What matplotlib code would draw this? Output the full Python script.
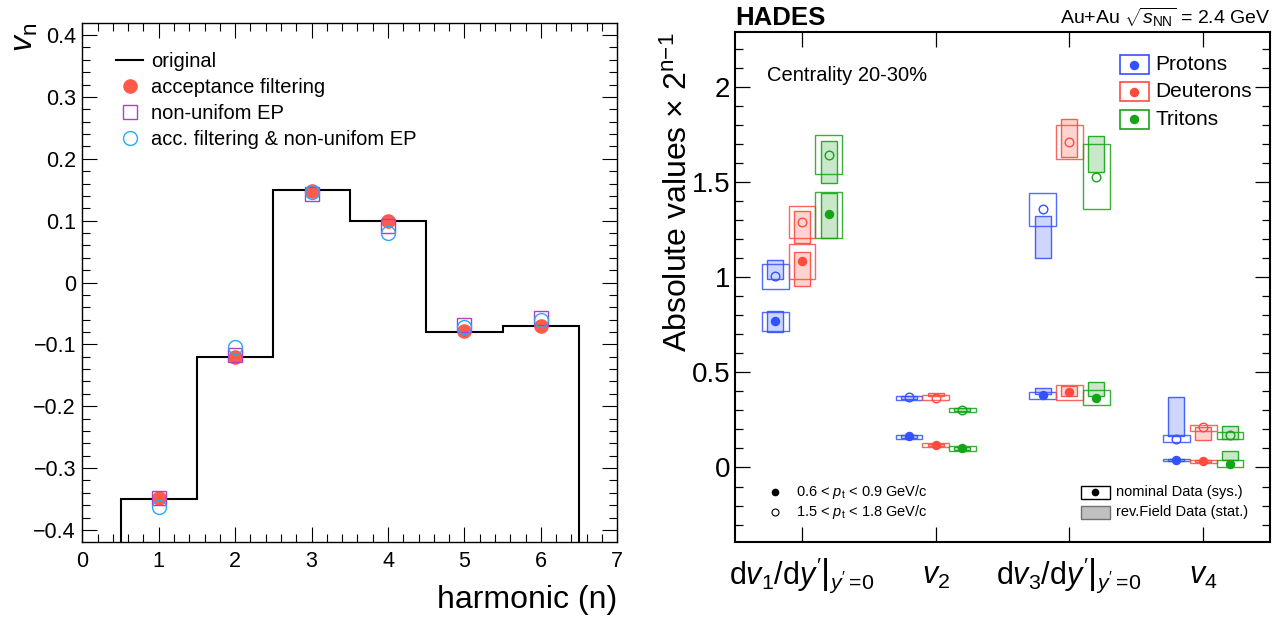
import numpy as np
import matplotlib.pyplot as plt
from matplotlib.patches import Rectangle
from matplotlib.lines import Line2D
from matplotlib.ticker import MultipleLocator, FuncFormatter

plt.rcParams['font.family'] = ['Liberation Sans', 'DejaVu Sans']
plt.rcParams['mathtext.fontset'] = 'custom'
plt.rcParams['mathtext.rm'] = 'Liberation Sans'
plt.rcParams['mathtext.it'] = 'Liberation Sans:italic'
plt.rcParams['mathtext.bf'] = 'Liberation Sans:bold'

# ---- left panel: v_n vs harmonic ----
harmonic = [1, 2, 3, 4, 5, 6]
vn_original = [-0.35, -0.12, 0.15, 0.10, -0.08, -0.07]
vn_acc_filter = [-0.348, -0.121, 0.148, 0.100, -0.079, -0.070]
vn_nonuni_ep = [-0.348, -0.118, 0.143, 0.091, -0.068, -0.057]
vn_acc_nonuni = [-0.363, -0.105, 0.146, 0.080, -0.072, -0.060]

# ---- right panel: flow coefficients (abs. value x 2^(n-1)) ----
observables = [r"$\left.\mathrm{d}v_{1}/\mathrm{d}y'\right|_{y'\,\!=\!0}$", r"$v_{2}$",
               r"$\left.\mathrm{d}v_{3}/\mathrm{d}y'\right|_{y'\,\!=\!0}$", r"$v_{4}$"]
species = ['Protons', 'Deuterons', 'Tritons']

# 0.6 < pt < 0.9 GeV/c : nominal value, nominal sys. band, rev. field stat. band
p_low = [0.768, 0.165, 0.380, 0.041]
p_low_sys = [(0.718, 0.815), (0.152, 0.172), (0.360, 0.398), (0.035, 0.047)]
p_low_rev = [(0.711, 0.821), (0.156, 0.170), (0.384, 0.420), (0.036, 0.046)]
d_low = [1.085, 0.120, 0.397, 0.033]
d_low_sys = [(0.992, 1.173), (0.110, 0.128), (0.357, 0.435), (0.026, 0.041)]
d_low_rev = [(0.956, 1.130), (0.114, 0.124), (0.375, 0.426), (0.028, 0.038)]
t_low = [1.330, 0.101, 0.366, 0.018]
t_low_sys = [(1.208, 1.447), (0.085, 0.113), (0.327, 0.405), (0.000, 0.037)]
t_low_rev = [(1.208, 1.445), (0.092, 0.108), (0.374, 0.450), (0.039, 0.085)]

# 1.5 < pt < 1.8 GeV/c
p_high = [1.006, 0.368, 1.357, 0.150]
p_high_sys = [(0.940, 1.071), (0.357, 0.377), (1.271, 1.441), (0.132, 0.169)]
p_high_rev = [(0.991, 1.092), (0.360, 0.374), (1.101, 1.323), (0.166, 0.368)]
d_high = [1.291, 0.367, 1.710, 0.211]
d_high_sys = [(1.208, 1.375), (0.357, 0.379), (1.619, 1.802), (0.193, 0.222)]
d_high_rev = [(1.182, 1.349), (0.377, 0.391), (1.633, 1.830), (0.142, 0.214)]
t_high = [1.643, 0.303, 1.528, 0.171]
t_high_sys = [(1.541, 1.745), (0.290, 0.315), (1.358, 1.698), (0.148, 0.189)]
t_high_rev = [(1.493, 1.714), (0.295, 0.311), (1.553, 1.740), (0.148, 0.220)]

colors = ['#3352ff', '#ff4b3e', '#17a317']
fills = ['#c9d2fc', '#ffcfcb', '#c3e5c3']
offsets = [-0.2, 0.0, 0.2]


def fmt(v, _):
    if abs(v) < 1e-9:
        return '0'
    return f"{v:g}".replace('-', '\u2212')


fig = plt.figure(figsize=(12.84, 6.19), dpi=100)
W, H = 1284, 619
ax1 = fig.add_axes([82.3 / W, 1 - 541.7 / H, 535 / W, 518.4 / H])
ax2 = fig.add_axes([735 / W, 1 - 541.7 / H, 535 / W, 509.4 / H])

# ---------------- left ----------------
ymin1, ymax1 = -0.419, 0.419
h = np.array(harmonic)
edges = np.append(h - 0.5, h[-1] + 0.5)
ax1.stairs(vn_original, edges, baseline=ymin1, color='black', lw=1.5)
ax1.plot(h, vn_acc_filter, 'o', color='#ff5a4a', ms=9.5, zorder=3)
ax1.plot(h, vn_nonuni_ep, 's', mfc='none', mec='#b040c0', mew=1.0, ms=9.5, zorder=4)
ax1.plot(h, vn_acc_nonuni, 'o', mfc='none', mec='#22aaff', mew=1.0, ms=10, zorder=5)
ax1.set_xlim(0, 7)
ax1.set_ylim(ymin1, ymax1)
ax1.xaxis.set_major_locator(MultipleLocator(1))
ax1.xaxis.set_minor_locator(MultipleLocator(0.2))
ax1.yaxis.set_major_locator(MultipleLocator(0.1))
ax1.yaxis.set_minor_locator(MultipleLocator(0.02))
ax1.yaxis.set_major_formatter(FuncFormatter(fmt))
ax1.tick_params(which='both', direction='in', top=True, right=True, labelsize=15.5, width=0.8)
ax1.tick_params(which='major', length=11)
ax1.tick_params(which='minor', length=5.8)
ax1.tick_params(axis='y', pad=4.5)
ax1.tick_params(axis='x', pad=6.5)
for s in ax1.spines.values():
    s.set_linewidth(1.0)

handles = [Line2D([], [], color='black', lw=1.5),
           Line2D([], [], ls='none', marker='o', color='#ff5a4a', ms=9.5),
           Line2D([], [], ls='none', marker='s', mfc='none', mec='#b040c0', mew=1.0, ms=9.5),
           Line2D([], [], ls='none', marker='o', mfc='none', mec='#22aaff', mew=1.0, ms=10)]
labels = ['original', 'acceptance filtering', 'non-unifom EP', 'acc. filtering & non-unifom EP']
ax1.legend(handles, labels, loc='upper left', bbox_to_anchor=(0.063, 0.945), frameon=False,
           fontsize=14.5, handlelength=1.36, handletextpad=0.36, labelspacing=0.345,
           borderpad=0, borderaxespad=0)

ax1.set_ylabel(r"$v_{\rm n}$", fontsize=23, loc='top', va='baseline')
ax1.yaxis.set_label_coords(-0.093, 1.0)
ax1.set_xlabel('harmonic (n)', fontsize=23, loc='right', va='baseline')
ax1.xaxis.set_label_coords(1.0, -0.128)

# ---------------- right ----------------
lows = [(p_low, p_low_sys, p_low_rev), (d_low, d_low_sys, d_low_rev), (t_low, t_low_sys, t_low_rev)]
highs = [(p_high, p_high_sys, p_high_rev), (d_high, d_high_sys, d_high_rev), (t_high, t_high_sys, t_high_rev)]

for k in range(len(species)):
    c, fc, off = colors[k], fills[k], offsets[k]
    xs = np.arange(len(observables)) + off
    for vals, sys_b, rev_b, filled in [(*lows[k], True), (*highs[k], False)]:
        for x, (slo, shi), (rlo, rhi) in zip(xs, sys_b, rev_b):
            ax2.add_patch(Rectangle((x - 0.06, rlo), 0.12, rhi - rlo, facecolor=fc,
                                    edgecolor=c, lw=1.0, alpha=0.9, zorder=2))
            ax2.add_patch(Rectangle((x - 0.1, slo), 0.2, shi - slo, facecolor='none',
                                    edgecolor=c, lw=1.0, alpha=0.85, zorder=3))
        if filled:
            ax2.plot(xs, vals, 'o', color=c, ms=5.8, ls='none', zorder=4)
        else:
            ax2.plot(xs, vals, 'o', mfc='none', mec=c, mew=1.0, ms=6.2, ls='none', zorder=4)

ax2.set_xlim(-0.5, 3.5)
ax2.set_ylim(-0.39, 2.287)
ax2.set_xticks(range(len(observables)), observables, fontsize=22)
for lbl in ax2.get_xticklabels():
    lbl.set_va('baseline')
ax2.yaxis.set_major_locator(MultipleLocator(0.5))
ax2.yaxis.set_minor_locator(MultipleLocator(0.1))
ax2.yaxis.set_major_formatter(FuncFormatter(fmt))
ax2.tick_params(which='both', direction='in', top=True, right=True, width=0.9)
ax2.tick_params(which='major', length=11)
ax2.tick_params(which='minor', length=5.8)
ax2.tick_params(axis='y', labelsize=20, pad=3.5)
ax2.tick_params(axis='x', pad=30.5)
for s in ax2.spines.values():
    s.set_linewidth(1.5)

ax2.set_ylabel(r"Absolute values $\times$ 2$^{{\rm n}{-}{\rm 1}}$", fontsize=23, loc='top', va='baseline')
ax2.yaxis.set_label_coords(-0.089, 1.0)

ax2.text(0.0, 1.0143, 'HADES', transform=ax2.transAxes, fontsize=18.5, fontweight='bold', va='baseline')
ax2.text(1.0, 1.0169, r"Au+Au $\sqrt{s_{\rm NN}}$ = 2.4 GeV", transform=ax2.transAxes,
         fontsize=14, ha='right', va='baseline')
ax2.text(0.0604, 0.9044, 'Centrality 20-30%', transform=ax2.transAxes, fontsize=14.5, va='baseline')

# species legend (top right)
leg_y = [0.9364, 0.883, 0.8296]
for k, name in enumerate(species):
    ax2.add_patch(Rectangle((0.7191, leg_y[k] - 0.0187), 0.0551, 0.0373, transform=ax2.transAxes,
                            facecolor='white', edgecolor=colors[k], lw=1.2, zorder=5))
    ax2.plot([0.7466], [leg_y[k]], 'o', color=colors[k], ms=5.8, transform=ax2.transAxes, zorder=6)
    ax2.text(0.786, leg_y[k], name, transform=ax2.transAxes, fontsize=15, va='center', zorder=6)

# pt legend (bottom left)
ax2.plot([0.0742], [0.097], 'o', color='black', ms=4.5, transform=ax2.transAxes)
ax2.plot([0.0742], [0.0583], 'o', mfc='none', mec='black', mew=0.8, ms=5, transform=ax2.transAxes)
ax2.text(0.114, 0.0891, r"0.6 < $p_{\rm t}$ < 0.9 GeV/c", transform=ax2.transAxes, fontsize=10.5, va='baseline')
ax2.text(0.114, 0.0505, r"1.5 < $p_{\rm t}$ < 1.8 GeV/c", transform=ax2.transAxes, fontsize=10.5, va='baseline')

# data-set legend (bottom right)
ax2.add_patch(Rectangle((0.6462, 0.0843), 0.0551, 0.025, transform=ax2.transAxes,
                        facecolor='white', edgecolor='black', lw=1.0))
ax2.plot([0.6737], [0.0968], 'o', color='black', ms=4.5, transform=ax2.transAxes)
ax2.add_patch(Rectangle((0.6462, 0.0452), 0.0551, 0.0255, transform=ax2.transAxes,
                        facecolor='#c0c0c0', edgecolor='#707070', lw=1.0))
ax2.text(0.7129, 0.0966, 'nominal Data (sys.)', transform=ax2.transAxes, fontsize=10.5, va='center')
ax2.text(0.7129, 0.0579, 'rev.Field Data (stat.)', transform=ax2.transAxes, fontsize=10.5, va='center')

fig.savefig('out.png', dpi=100)
